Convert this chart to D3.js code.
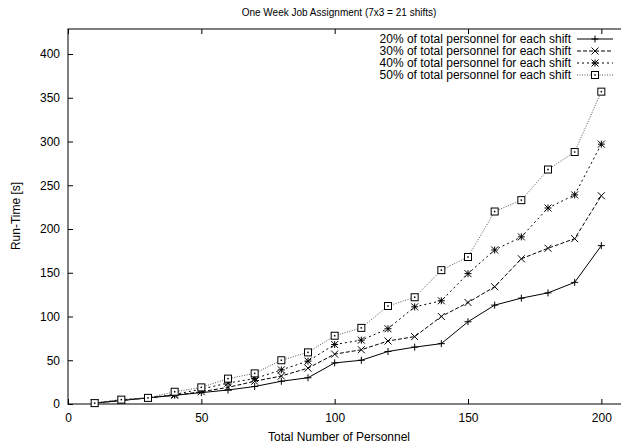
<!DOCTYPE html>
<html>
<head>
<meta charset="utf-8">
<script src="https://cdn.jsdelivr.net/npm/d3@7"></script>
<style>
body { margin: 0; background: #fff; }
text { font-family: "Liberation Sans", Arial, sans-serif; fill: #000; }
</style>
</head>
<body>
<svg width="621" height="446"></svg>
<script>
// data
var personnel = [10, 20, 30, 40, 50, 60, 70, 80, 90, 100, 110, 120, 130, 140, 150, 160, 170, 180, 190, 200];
var pct20 = [1, 4, 7, 10, 13, 16, 20, 26, 30, 47, 50, 60, 65, 69, 94, 113, 121, 127, 139, 181];
var pct30 = [1, 4, 7, 10, 14, 19, 26, 32, 41, 57, 62, 72, 77, 100, 116, 134, 166, 178, 189, 238];
var pct40 = [1, 5, 7, 11, 17, 24, 29, 39, 49, 68, 73, 86, 111, 118, 149, 176, 191, 224, 239, 297];
var pct50 = [1, 5, 7, 14, 19, 29, 35, 50, 59, 78, 87, 112, 122, 153, 168, 220, 233, 268, 288, 357];
var seriesNames = ["20% of total personnel for each shift", "30% of total personnel for each shift",
                   "40% of total personnel for each shift", "50% of total personnel for each shift"];
var xTicks = [0, 50, 100, 150, 200];
var yTicks = [0, 50, 100, 150, 200, 250, 300, 350, 400];

var svg = d3.select("svg");

var plotL = 68, plotR = 628, plotT = 29, plotB = 404;

var x = d3.scaleLinear().domain([0, 210]).range([plotL, plotR]);
var y = d3.scaleLinear().domain([0, 428.6]).range([plotB, plotT]);

// frame + ticks
svg.append("rect")
    .attr("x", plotL).attr("y", plotT)
    .attr("width", plotR - plotL).attr("height", plotB - plotT)
    .attr("fill", "none").attr("stroke", "#000").attr("stroke-width", 1);

var xAxis = svg.append("g")
    .attr("transform", "translate(0," + plotB + ")")
    .call(d3.axisBottom(x).tickValues(xTicks).tickSize(-5).tickPadding(9));
var xTop = svg.append("g")
    .attr("transform", "translate(0," + plotT + ")")
    .call(d3.axisTop(x).tickValues(xTicks).tickSize(-5).tickFormat(""));
var yAxis = svg.append("g")
    .attr("transform", "translate(" + plotL + ",0)")
    .call(d3.axisLeft(y).tickValues(yTicks).tickSize(-5).tickPadding(8));

[xAxis, xTop, yAxis].forEach(function (g) {
    g.select(".domain").remove();
    g.selectAll("line").attr("stroke", "#000");
    g.selectAll("text").attr("font-size", 12).attr("font-family", "Liberation Sans, Arial, sans-serif").attr("fill", "#000");
});

// titles
svg.append("text").attr("x", 339).attr("y", 16).attr("text-anchor", "middle")
    .attr("font-size", 10).text("One Week Job Assignment (7x3 = 21 shifts)");
svg.append("text").attr("x", 339).attr("y", 441).attr("text-anchor", "middle")
    .attr("font-size", 12).text("Total Number of Personnel");
svg.append("text").attr("transform", "translate(20,216) rotate(-90)").attr("text-anchor", "middle")
    .attr("font-size", 12).text("Run-Time [s]");

// series
var allSeries = [pct20, pct30, pct40, pct50];
var dashes = [null, "4,2", "2,3", "1,1.5"];
var colors = ["#000", "#000", "#000", "#555"];

var line = d3.line()
    .x(function (d) { return x(d[0]); })
    .y(function (d) { return y(d[1]); });

function marker(g, kind, cx, cy) {
    var s = 3.5;
    if (kind === 0 || kind === 2) {
        g.append("path").attr("d", "M" + (cx - s) + "," + cy + "H" + (cx + s) + "M" + cx + "," + (cy - s) + "V" + (cy + s))
            .attr("stroke", "#000").attr("stroke-width", 1);
    }
    if (kind === 1 || kind === 2) {
        g.append("path").attr("d", "M" + (cx - s) + "," + (cy - s) + "L" + (cx + s) + "," + (cy + s) +
            "M" + (cx - s) + "," + (cy + s) + "L" + (cx + s) + "," + (cy - s))
            .attr("stroke", "#000").attr("stroke-width", 1);
    }
    if (kind === 3) {
        g.append("rect").attr("x", cx - s).attr("y", cy - s).attr("width", 2 * s).attr("height", 2 * s)
            .attr("fill", "#fff").attr("stroke", "#000").attr("stroke-width", 1);
        g.append("rect").attr("x", cx - 0.75).attr("y", cy - 0.75).attr("width", 1.5).attr("height", 1.5)
            .attr("fill", "#000");
    }
}

allSeries.forEach(function (vals, i) {
    var pts = personnel.map(function (p, j) { return [p, vals[j]]; });
    svg.append("path").datum(pts)
        .attr("d", line)
        .attr("fill", "none")
        .attr("stroke", colors[i])
        .attr("stroke-width", 1)
        .attr("stroke-dasharray", dashes[i]);
    var g = svg.append("g");
    pts.forEach(function (d) { marker(g, i, x(d[0]), y(d[1])); });
});

// legend
seriesNames.forEach(function (name, i) {
    var ly = 39 + i * 12;
    svg.append("text").attr("x", 571).attr("y", ly + 4).attr("text-anchor", "end")
        .attr("font-size", 12).text(name);
    svg.append("line").attr("x1", 577).attr("x2", 613).attr("y1", ly).attr("y2", ly)
        .attr("stroke", colors[i]).attr("stroke-width", 1).attr("stroke-dasharray", dashes[i]);
    marker(svg.append("g"), i, 595, ly);
});
</script>
</body>
</html>
